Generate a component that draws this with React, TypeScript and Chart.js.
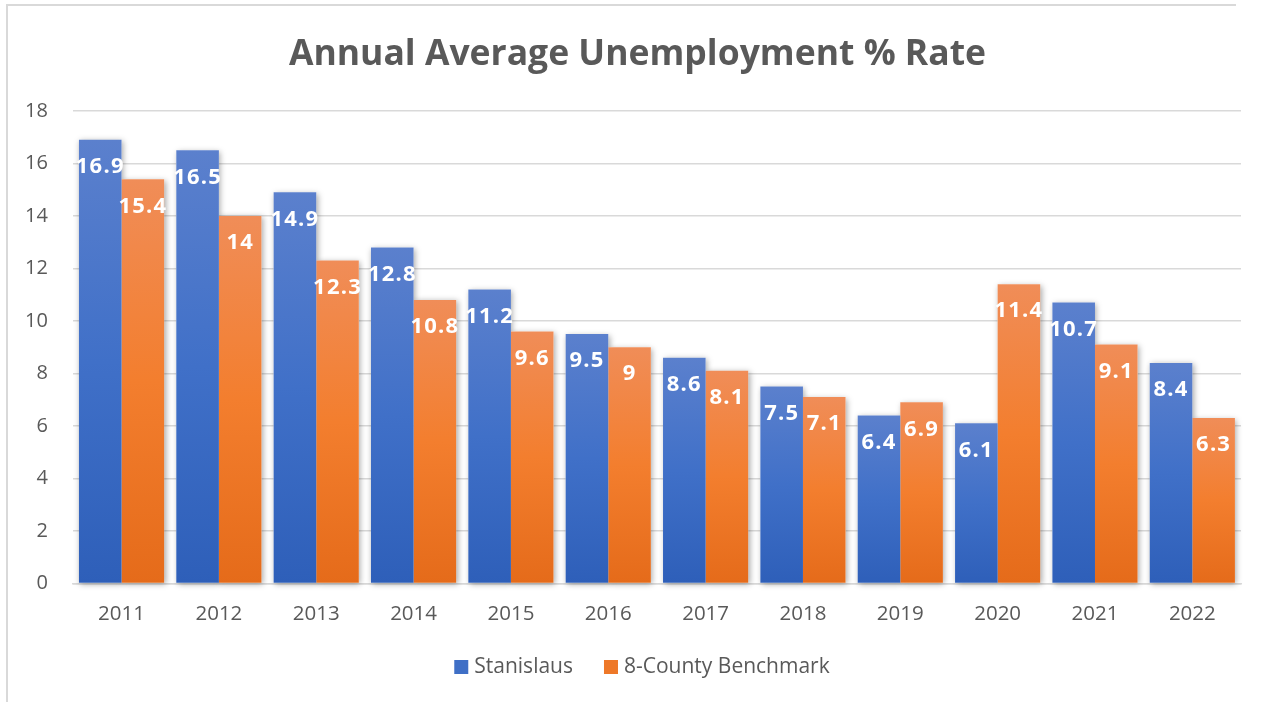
import React, { useEffect, useRef } from "react";
import { Chart, registerables } from "chart.js";

Chart.register(...registerables);

// Annual average unemployment rate (%) by year
const years = ["2011", "2012", "2013", "2014", "2015", "2016", "2017", "2018", "2019", "2020", "2021", "2022"];
const stanislaus = [16.9, 16.5, 14.9, 12.8, 11.2, 9.5, 8.6, 7.5, 6.4, 6.1, 10.7, 8.4];
const benchmark = [15.4, 14, 12.3, 10.8, 9.6, 9, 8.1, 7.1, 6.9, 11.4, 9.1, 6.3];
const seriesNames = ["Stanislaus", "8-County Benchmark"];
const yMin = 0;
const yMax = 18;
const yStep = 2;
const chartTitle = "Annual Average Unemployment % Rate";

const FONT = "'Open Sans', 'Noto Sans', 'DejaVu Sans', sans-serif";
const TEXT = "#595959";
const GRID = "#d9d9d9";
const BLUE_STOPS = ["#5b80cd", "#4070c8", "#2e5fb9"];
const ORANGE_STOPS = ["#f08d58", "#f37e2e", "#e56b1a"];
const SERIES_SOLID = ["#3f6fc6", "#ee7828"];

// Vertical gradient spanning each bar from its top to the zero line
function barGradient(stops: string[]) {
  return (c: any) => {
    const chart = c.chart;
    if (!chart.chartArea || c.type !== "data" || !chart.scales.y) return stops[1];
    const y = chart.scales.y;
    const top = y.getPixelForValue(c.raw);
    const bottom = y.getPixelForValue(0);
    if (!isFinite(top) || !isFinite(bottom) || top === bottom) return stops[1];
    const g = chart.ctx.createLinearGradient(0, top, 0, bottom);
    g.addColorStop(0, stops[0]);
    g.addColorStop(0.5, stops[1]);
    g.addColorStop(1, stops[2]);
    return g;
  };
}

// Soft drop shadow behind every bar
const barShadow = {
  id: "barShadow",
  beforeDatasetsDraw(chart: any) {
    const ctx = chart.ctx;
    ctx.save();
    ctx.shadowColor = "rgba(0,0,0,0.35)";
    ctx.shadowBlur = 6;
    ctx.shadowOffsetX = 1.5;
    ctx.shadowOffsetY = 1.5;
    ctx.fillStyle = "#ffffff";
    chart.data.datasets.forEach((_: any, di: number) => {
      chart.getDatasetMeta(di).data.forEach((bar: any) => {
        const { x, y, base, width } = bar.getProps(["x", "y", "base", "width"], true);
        ctx.fillRect(x - width / 2, y, width, base - y);
      });
    });
    ctx.restore();
  },
};

// White value labels just inside the top of each bar
const valueLabels = {
  id: "valueLabels",
  afterDatasetsDraw(chart: any) {
    const ctx = chart.ctx;
    ctx.save();
    ctx.fillStyle = "#ffffff";
    ctx.font = `bold 22px ${FONT}`;
    (ctx as any).letterSpacing = "1.2px";
    ctx.textAlign = "center";
    ctx.textBaseline = "middle";
    chart.data.datasets.forEach((ds: any, di: number) => {
      chart.getDatasetMeta(di).data.forEach((bar: any, i: number) => {
        const { x, y } = bar.getProps(["x", "y"], true);
        ctx.fillText(String(ds.data[i]), x, y + 27);
      });
    });
    ctx.restore();
  },
};

// Centered title above the plot
const topTitle = {
  id: "topTitle",
  afterDraw(chart: any) {
    const ctx = chart.ctx;
    ctx.save();
    ctx.font = `bold 35.5px ${FONT}`;
    ctx.fillStyle = TEXT;
    ctx.textAlign = "center";
    ctx.textBaseline = "middle";
    ctx.fillText(chartTitle, 637.5, 55);
    ctx.restore();
  },
};

// Legend row under the axis: square swatch followed by series name
const bottomLegend = {
  id: "bottomLegend",
  afterDraw(chart: any) {
    const ctx = chart.ctx;
    const box = 14;
    const textGap = 6;
    const itemGap = 31;
    const centerX = 642;
    const centerY = 667;
    ctx.save();
    ctx.font = `21px ${FONT}`;
    ctx.textBaseline = "middle";
    ctx.textAlign = "left";
    const widths = seriesNames.map((n) => ctx.measureText(n).width);
    const total = widths.reduce((s, w) => s + box + textGap + w, 0) + itemGap * (seriesNames.length - 1);
    let x = centerX - total / 2;
    seriesNames.forEach((name, i) => {
      ctx.fillStyle = SERIES_SOLID[i];
      ctx.fillRect(x, centerY - box / 2, box, box);
      x += box + textGap;
      ctx.fillStyle = TEXT;
      ctx.fillText(name, x, centerY);
      x += widths[i] + itemGap;
    });
    ctx.restore();
  },
};

export default function App() {
  const canvasRef = useRef<HTMLCanvasElement | null>(null);

  useEffect(() => {
    if (!canvasRef.current) return;
    const chart = new Chart(canvasRef.current, {
      type: "bar",
      data: {
        labels: years,
        datasets: [
          {
            label: seriesNames[0],
            data: stanislaus,
            backgroundColor: barGradient(BLUE_STOPS),
            borderWidth: 0,
            categoryPercentage: 0.875,
            barPercentage: 1,
          },
          {
            label: seriesNames[1],
            data: benchmark,
            backgroundColor: barGradient(ORANGE_STOPS),
            borderWidth: 0,
            categoryPercentage: 0.875,
            barPercentage: 1,
          },
        ],
      },
      options: {
        responsive: false,
        animation: false,
        layout: { padding: { top: 111, left: 0, right: 25, bottom: 58 } },
        plugins: {
          title: { display: false },
          legend: { display: false },
          tooltip: { enabled: false },
        },
        scales: {
          x: {
            grid: { display: false, drawTicks: false },
            border: { display: true, color: GRID, width: 1.5 },
            ticks: { color: TEXT, font: { family: FONT, size: 20.5 }, padding: 18 },
          },
          y: {
            min: yMin,
            max: yMax,
            grid: { color: GRID, lineWidth: 1.5, drawTicks: false },
            border: { display: false },
            ticks: { stepSize: yStep, color: TEXT, font: { family: FONT, size: 20 }, padding: 25 },
          },
        },
      },
      plugins: [barShadow, valueLabels, topTitle, bottomLegend],
    });
    return () => chart.destroy();
  }, []);

  return (
    <div style={{ position: "absolute", left: 0, top: 0, width: 1266, height: 702, overflow: "hidden", background: "#ffffff" }}>
      <div
        style={{
          position: "absolute",
          left: 6,
          top: 4,
          width: 1228,
          height: 800,
          borderLeft: `2px solid ${GRID}`,
          borderTop: `2px solid ${GRID}`,
          pointerEvents: "none",
        }}
      />
      <canvas ref={canvasRef} width={1266} height={702} style={{ position: "absolute", left: 0, top: 0, display: "block" }} />
    </div>
  );
}
